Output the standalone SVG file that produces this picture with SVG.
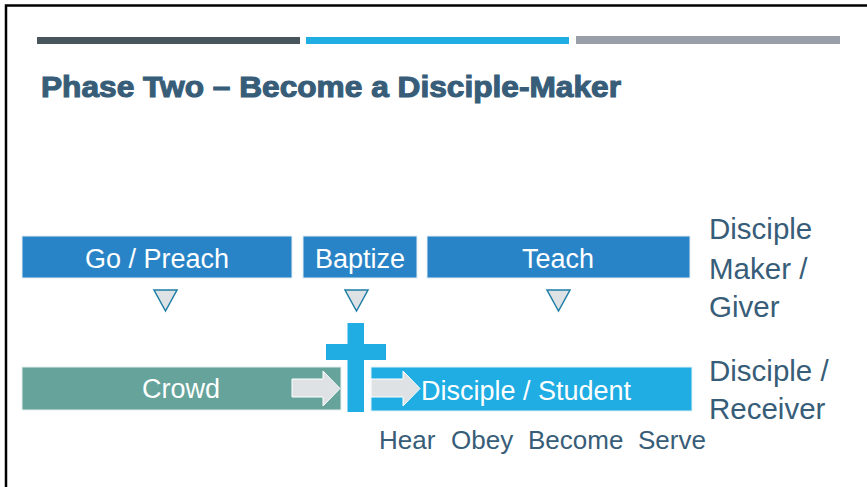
<svg xmlns="http://www.w3.org/2000/svg" width="867" height="487" viewBox="0 0 867 487">
<defs>
<style>
.lbl{font-family:"Liberation Sans",Arial,sans-serif;font-size:27px;fill:#ffffff;text-anchor:middle}
.side{font-family:"Liberation Sans",Arial,sans-serif;font-size:29.5px;fill:#375d78}
.sub{font-family:"Liberation Sans",Arial,sans-serif;font-size:26px;fill:#375d78}
.top{fill:#2884c6;stroke:#e4eef6;stroke-width:1}
.tri{fill:#dfe2e5;stroke:#1f7ea6;stroke-width:1.5;stroke-linejoin:miter}
.arr{fill:#dfe2e5;stroke:#ffffff;stroke-width:1}
</style>
</defs>
<rect width="867" height="487" fill="#ffffff"/>
<!-- frame -->
<path d="M6,487 V5.5 H867" fill="none" stroke="#000000" stroke-width="2.5"/>
<!-- header bars -->
<rect x="37" y="37" width="263" height="7" fill="#48555d"/>
<rect x="306" y="37" width="263" height="7" fill="#1fade3"/>
<rect x="576" y="36" width="264" height="8" fill="#999ea8"/>
<text x="41" y="97" textLength="580" lengthAdjust="spacingAndGlyphs" font-family="'Liberation Sans Narrow','Liberation Sans',Arial,sans-serif" font-weight="bold" font-size="30" fill="#375d78" stroke="#375d78" stroke-width="1.1">Phase Two – Become a Disciple-Maker</text>

<g id="go-preach">
<rect class="top" x="22" y="236" width="270" height="42"/>
<text class="lbl" x="157" y="268">Go / Preach</text>
</g>
<g id="baptize">
<rect class="top" x="303" y="236" width="114" height="42"/>
<text class="lbl" x="360" y="268">Baptize</text>
</g>
<g id="teach">
<rect class="top" x="427" y="236" width="263" height="42"/>
<text class="lbl" x="558" y="268">Teach</text>
</g>
<g id="giver-label">
<text class="side" x="709" y="239">Disciple</text>
<text class="side" x="709" y="279">Maker /</text>
<text class="side" x="709" y="317">Giver</text>
</g>

<g id="connectors">
<polygon class="tri" points="154,290 177,290 165.5,311"/>
<polygon class="tri" points="345,290 368,290 356.5,311"/>
<polygon class="tri" points="547,290 570,290 558.5,311"/>
</g>

<g id="cross">
<rect x="347.5" y="323" width="16.5" height="89" fill="#1fade3"/>
<rect x="326" y="344" width="60" height="16" fill="#1fade3"/>
</g>

<g id="crowd">
<rect x="22" y="367" width="319" height="43" fill="#65a39b" stroke="#e6eeee" stroke-width="1"/>
<text class="lbl" x="181" y="398">Crowd</text>
<polygon class="arr" points="292,379 323,379 323,371 340,388.5 323,406 323,397 292,397"/>
</g>

<g id="disciple-student">
<rect x="371" y="367" width="321" height="44" fill="#1fade3" stroke="#e2f2fa" stroke-width="1"/>
<polygon class="arr" points="371,379 403,379 403,371 420,388.5 403,406 403,397 371,397"/>
<text x="421" y="400" font-family="'Liberation Sans',Arial,sans-serif" font-size="27" fill="#ffffff">Disciple / Student</text>
</g>

<g id="receiver-label">
<text class="side" x="709" y="381">Disciple /</text>
<text class="side" x="709" y="419">Receiver</text>
</g>

<g id="steps">
<text class="sub" x="379" y="449">Hear</text>
<text class="sub" x="451" y="449">Obey</text>
<text class="sub" x="528" y="449">Become</text>
<text class="sub" x="638" y="449">Serve</text>
</g>
</svg>
